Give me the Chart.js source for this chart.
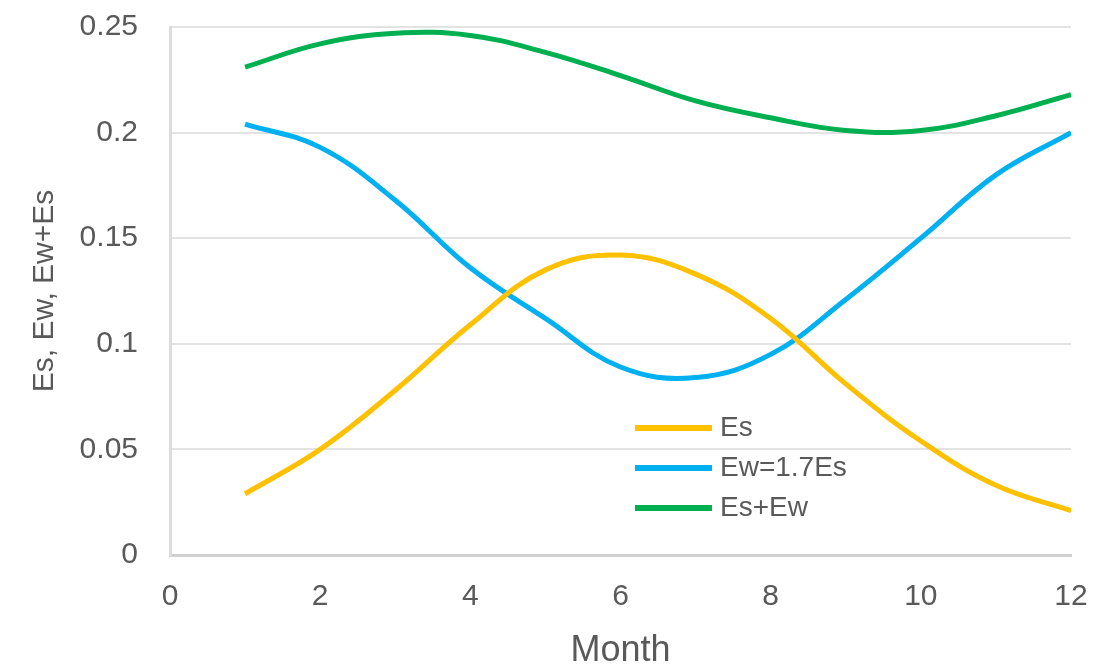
<!DOCTYPE html>
<html>
<head>
<meta charset="utf-8">
<script src="https://cdn.jsdelivr.net/npm/chart.js@4/dist/chart.umd.min.js"></script>
<style>
  html, body { margin: 0; padding: 0; background: #fff; }
  #wrap { width: 1119px; height: 671px; }
</style>
</head>
<body>
<div id="wrap"><canvas id="myChart" width="1119" height="671"></canvas></div>
<script>
// values
var months = [1, 2, 3, 4, 5, 6, 7, 8, 9, 10, 11, 12];
var es     = [0.029, 0.050, 0.078, 0.109, 0.135, 0.142, 0.133, 0.112, 0.081, 0.054, 0.033, 0.021];
var ew     = [0.204, 0.193, 0.168, 0.136, 0.112, 0.089, 0.084, 0.095, 0.121, 0.150, 0.180, 0.200];
var esew   = [0.231, 0.242, 0.247, 0.246, 0.238, 0.227, 0.215, 0.207, 0.201, 0.201, 0.208, 0.218];
var xTicks = [0, 2, 4, 6, 8, 10, 12];
var yTicks = ["0", "0.05", "0.1", "0.15", "0.2", "0.25"];

var textColor = "#595959";
var fontFamily = "'Liberation Sans', Arial, sans-serif";

const ctx = document.getElementById('myChart');

const toPoints = (vals) => months.map((m, i) => ({ x: m, y: vals[i] }));

// legend drawn inside the plot area, like the original
const innerLegend = {
  id: 'innerLegend',
  afterDraw(chart) {
    const c = chart.ctx;
    const x0 = 635, y0 = 428, gap = 40;
    c.save();
    c.font = "28px " + fontFamily;
    c.textBaseline = "middle";
    c.textAlign = "left";
    chart.data.datasets.forEach((ds, i) => {
      const y = y0 + i * gap;
      c.strokeStyle = ds.borderColor;
      c.lineWidth = 6;
      c.beginPath();
      c.moveTo(x0, y);
      c.lineTo(x0 + 77, y);
      c.stroke();
      c.fillStyle = textColor;
      c.fillText(ds.label, x0 + 85, y);
    });
    c.restore();
  }
};

var myChart = new Chart(ctx, {
  type: "line",
  data: {
    datasets: [{
      label: "Es",
      data: toPoints(es),
      borderColor: "#FFC000",
      borderWidth: 5,
      tension: 0.4,
      pointRadius: 0
    }, {
      label: "Ew=1.7Es",
      data: toPoints(ew),
      borderColor: "#00B0F0",
      borderWidth: 5,
      tension: 0.4,
      pointRadius: 0
    }, {
      label: "Es+Ew",
      data: toPoints(esew),
      borderColor: "#00B050",
      borderWidth: 5,
      tension: 0.4,
      pointRadius: 0
    }]
  },
  options: {
    responsive: false,
    animation: false,
    layout: { padding: { left: 0, top: 27, right: 48, bottom: 0 } },
    plugins: {
      legend: { display: false },
      tooltip: { enabled: false }
    },
    scales: {
      x: {
        type: "linear",
        min: 0,
        max: 12,
        afterBuildTicks: (scale) => { scale.ticks = xTicks.map(v => ({ value: v })); },
        afterFit: (scale) => { scale.height = 116; },
        grid: { display: false, drawTicks: false },
        border: { display: true, color: "#d0d0d0", width: 3 },
        ticks: { color: textColor, padding: 24, font: { size: 30, family: fontFamily } },
        title: {
          display: true,
          text: "Month",
          color: textColor,
          padding: { top: 0, bottom: -2 },
          font: { size: 36, family: fontFamily }
        }
      },
      y: {
        min: 0,
        max: 0.25,
        afterBuildTicks: (scale) => { scale.ticks = yTicks.map(t => ({ value: parseFloat(t) })); },
        afterFit: (scale) => {
          scale.width = 170;
          scale.paddingTop = 0;
          scale.paddingBottom = 0;
        },
        grid: { color: "#e3e3e3", lineWidth: 2, drawTicks: false },
        border: { display: true, color: "#dcdcdc", width: 3 },
        ticks: {
          color: textColor,
          padding: 32,
          font: { size: 30, family: fontFamily },
          callback: (v, i) => yTicks[i]
        },
        title: {
          display: true,
          text: "Es, Ew, Ew+Es",
          color: textColor,
          padding: { top: 27, bottom: 0 },
          font: { size: 30, family: fontFamily }
        }
      }
    }
  },
  plugins: [innerLegend]
});
</script>
</body>
</html>
